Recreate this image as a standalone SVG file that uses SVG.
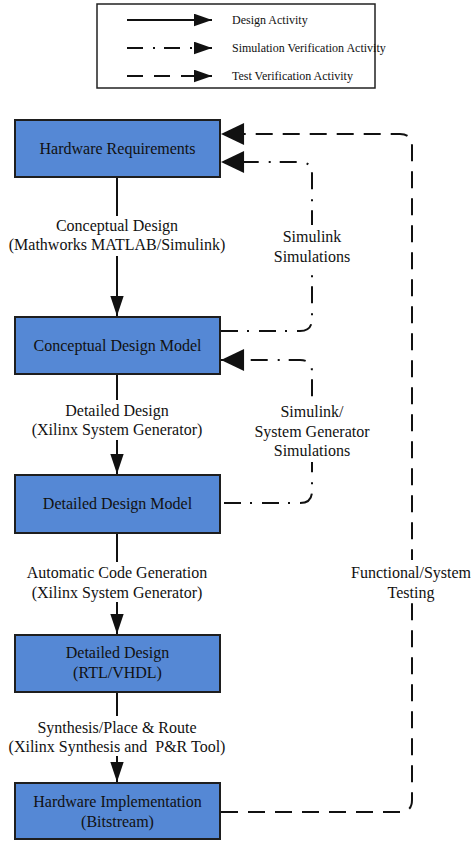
<svg xmlns="http://www.w3.org/2000/svg" width="471" height="841" viewBox="0 0 471 841">
<style>
.box{fill:#5588d5;stroke:#1e1e1e;stroke-width:2}
.t{font-family:"Liberation Serif","Times New Roman",serif;font-size:16px;fill:#111;text-anchor:middle;white-space:pre}
.lt{font-family:"Liberation Serif","Times New Roman",serif;font-size:12px;fill:#111}
.solid{fill:none;stroke:#111;stroke-width:2}
.dash{fill:none;stroke:#111;stroke-width:2;stroke-dasharray:17 10}
.dd{fill:none;stroke:#111;stroke-width:2;stroke-dasharray:17 9 2 10}
.bg{fill:#fff}
</style>
<defs>
<marker id="ah" markerUnits="userSpaceOnUse" markerWidth="20" markerHeight="14" viewBox="0 0 18 12" refX="18" refY="6" orient="auto">
<path d="M0,0 L18,6 L0,12 Z" fill="#111"/>
</marker>
<marker id="big" markerUnits="userSpaceOnUse" markerWidth="24" markerHeight="22" viewBox="0 0 22 21" refX="22" refY="10.5" orient="auto">
<path d="M0,0 L22,10.5 L0,21 Z" fill="#111"/>
</marker>
<marker id="leg" markerUnits="userSpaceOnUse" markerWidth="18" markerHeight="13" viewBox="0 0 17 12" refX="17" refY="6" orient="auto">
<path d="M0,0 L17,6 L0,12 Z" fill="#111"/>
</marker>
</defs>

<g id="legend">
<rect x="97" y="4" width="278" height="84" fill="#fff" stroke="#222" stroke-width="1.5"/>
<line x1="127" y1="20" x2="212" y2="20" class="solid" marker-end="url(#leg)"/>
<text x="232" y="24" class="lt">Design Activity</text>
<line x1="127" y1="48" x2="212" y2="48" class="dd" style="stroke-dasharray:16 10 2 9" marker-end="url(#leg)"/>
<text x="232" y="52" class="lt">Simulation Verification Activity</text>
<line x1="127" y1="76" x2="212" y2="76" class="dash" style="stroke-dasharray:16 11" marker-end="url(#leg)"/>
<text x="232" y="80" class="lt">Test Verification Activity</text>
</g>

<g id="connectors">
<line x1="117" y1="177" x2="117" y2="316" class="solid" marker-end="url(#ah)"/>
<line x1="117" y1="374" x2="117" y2="474" class="solid" marker-end="url(#ah)"/>
<line x1="117" y1="533" x2="117" y2="634" class="solid" marker-end="url(#ah)"/>
<line x1="117" y1="692" x2="117" y2="782" class="solid" marker-end="url(#ah)"/>
<path d="M221,812 H400 Q412,812 412,800 V146 Q412,134 400,134 H221" class="dash" marker-end="url(#big)"/>
<path d="M221,331 H300 Q312,331 312,319 V174 Q312,162 300,162 H221" class="dd" marker-end="url(#big)"/>
<path d="M224,503 H300 Q312,503 312,491 V372 Q312,360 300,360 H221" class="dd" marker-end="url(#big)"/>

<rect x="6" y="216" width="220" height="40" class="bg"/>
<text x="117" y="231" class="t">Conceptual Design</text>
<text x="117" y="250" class="t">(Mathworks MATLAB/Simulink)</text>

<rect x="272" y="225" width="80" height="42" class="bg"/>
<text x="312" y="242" class="t">Simulink</text>
<text x="312" y="262" class="t">Simulations</text>

<rect x="28" y="400" width="180" height="40" class="bg"/>
<text x="117" y="416" class="t">Detailed Design</text>
<text x="117" y="435" class="t">(Xilinx System Generator)</text>

<rect x="254" y="402" width="116" height="60" class="bg"/>
<text x="312" y="417" class="t">Simulink/</text>
<text x="312" y="437" class="t">System Generator</text>
<text x="312" y="456" class="t">Simulations</text>

<rect x="22" y="562" width="190" height="40" class="bg"/>
<text x="117" y="578" class="t">Automatic Code Generation</text>
<text x="117" y="598" class="t">(Xilinx System Generator)</text>

<rect x="350" y="560" width="121" height="42" class="bg"/>
<text x="411" y="578" class="t">Functional/System</text>
<text x="411" y="598" class="t">Testing</text>

<rect x="8" y="716" width="222" height="40" class="bg"/>
<text x="117" y="733" class="t">Synthesis/Place &amp; Route</text>
<text x="117" y="752" class="t">(Xilinx Synthesis and  P&amp;R Tool)</text>
</g>

<g id="hardware-requirements">
<rect x="15" y="120" width="205" height="57" class="box"/>
<text x="117.5" y="154" class="t">Hardware Requirements</text>
</g>
<g id="conceptual-design-model">
<rect x="15" y="317" width="205" height="57" class="box"/>
<text x="117.5" y="351" class="t">Conceptual Design Model</text>
</g>
<g id="detailed-design-model">
<rect x="15" y="475" width="205" height="58" class="box"/>
<text x="117.5" y="509" class="t">Detailed Design Model</text>
</g>
<g id="detailed-design-rtl">
<rect x="15" y="635" width="205" height="57" class="box"/>
<text x="117.5" y="658" class="t">Detailed Design</text>
<text x="117.5" y="678" class="t">(RTL/VHDL)</text>
</g>
<g id="hardware-implementation">
<rect x="15" y="783" width="205" height="56" class="box"/>
<text x="117.5" y="807" class="t">Hardware Implementation</text>
<text x="117.5" y="827" class="t">(Bitstream)</text>
</g>
</svg>
